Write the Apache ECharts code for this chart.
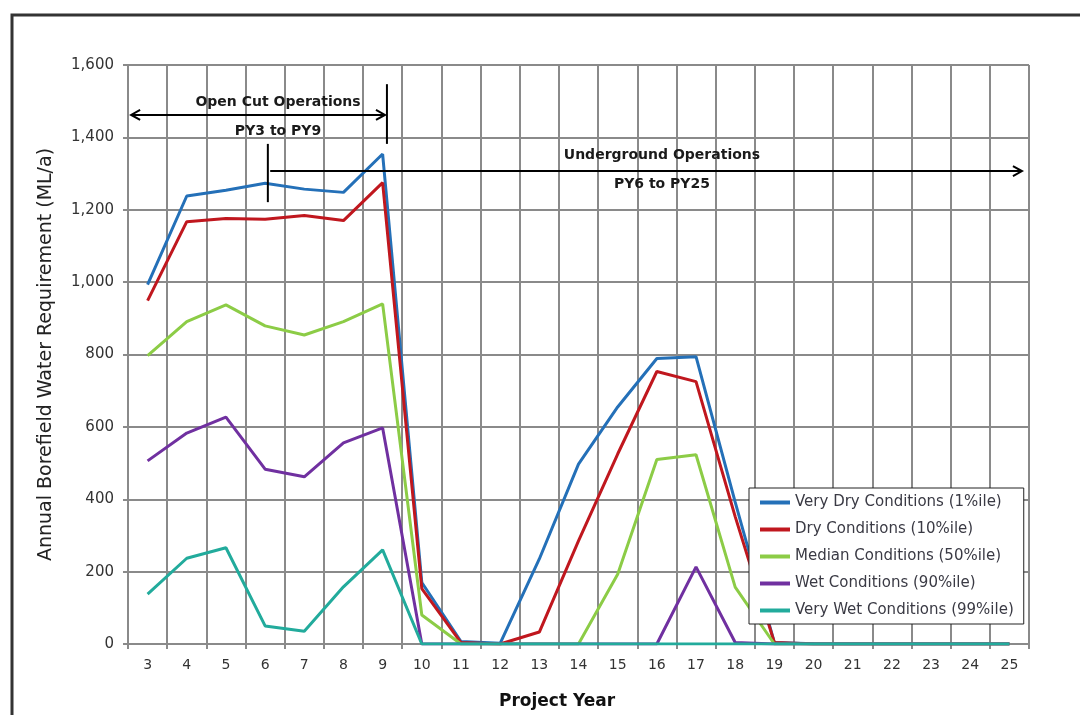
<!DOCTYPE html>
<html>
<head>
<meta charset="utf-8">
<script src="https://cdn.jsdelivr.net/npm/echarts@6/dist/echarts.min.js"></script>
<style>
html, body { margin: 0; padding: 0; background: #fff; }
#chart { width: 1080px; height: 715px; }
</style>
</head>
<body>
<div id="chart"></div>
<script>
// project years on the x axis
var years = ['3', '4', '5', '6', '7', '8', '9', '10', '11', '12', '13', '14', '15', '16', '17', '18', '19', '20', '21', '22', '23', '24', '25']
var yTicks = [0, 1600, 200] // min, max, step

// annual borefield water requirement (ML/a)
var veryDry = [993, 1238, 1254, 1273, 1257, 1248, 1354, 170, 7, 2, 235, 497, 655, 789, 794, 392, 4, 1, 0, 0, 0, 0, 0]
var dry = [949, 1167, 1176, 1174, 1184, 1170, 1275, 153, 4, 0, 33, 285, 525, 753, 725, 352, 4, 0, 0, 0, 0, 0, 0]
var median = [797, 891, 937, 879, 854, 891, 940, 80, 0, 0, 0, 0, 193, 510, 523, 157, 0, 0, 0, 0, 0, 0, 0]
var wet = [506, 583, 627, 483, 462, 556, 597, 0, 0, 0, 0, 0, 0, 0, 213, 4, 0, 0, 0, 0, 0, 0, 0]
var veryWet = [138, 237, 266, 50, 35, 158, 260, 0, 0, 0, 0, 0, 0, 0, 0, 0, 0, 0, 0, 0, 0, 0, 0]

var seriesNames = ['Very Dry Conditions (1%ile)', 'Dry Conditions (10%ile)', 'Median Conditions (50%ile)', 'Wet Conditions (90%ile)', 'Very Wet Conditions (99%ile)']
var seriesColors = ['#2470b8', '#c0171e', '#8ccc46', '#7030a0', '#22ab9c']

// operation periods: labels, arrow from/to (category index), arrow value,
// marker index + value range, label index + values, arrow heads
var periods = [
    ['Open Cut Operations', 'PY3 to PY9', -0.42, 6.06, 1462, 6.11, 1547, 1382, 3.33, 1498, 1417, 'both'],
    ['Underground Operations', 'PY6 to PY25', 3.13, 22.32, 1307, 3.07, 1382, 1221, 13.13, 1351, 1271, 'right']
]

var FONT = 'DejaVu Sans'
var GRID_COLOR = '#8a8a8a'

var chart = echarts.init(document.getElementById('chart'))

var option = {
    animation: false,
    backgroundColor: '#fff',
    textStyle: { fontFamily: FONT },
    grid: { left: 128, right: 51, top: 65, bottom: 71 },
    legend: {
        data: seriesNames,
        orient: 'vertical',
        left: 749,
        top: 488,
        icon: 'rect',
        itemWidth: 30,
        itemHeight: 4,
        itemGap: 12,
        padding: [7, 10, 6, 11],
        borderColor: '#222',
        borderWidth: 1,
        backgroundColor: '#fff',
        textStyle: { fontFamily: FONT, fontSize: 15, color: '#3a3a44' }
    },
    xAxis: {
        type: 'category',
        data: years,
        boundaryGap: true,
        axisLine: { lineStyle: { color: GRID_COLOR, width: 2 } },
        axisTick: { show: true, interval: 0, length: 5, lineStyle: { color: GRID_COLOR, width: 2 } },
        splitLine: { show: true, interval: 0, lineStyle: { color: GRID_COLOR, width: 2 } },
        axisLabel: { interval: 0, margin: 14, fontSize: 14, color: '#333', fontFamily: FONT }
    },
    yAxis: {
        type: 'value',
        min: yTicks[0],
        max: yTicks[1],
        interval: yTicks[2],
        name: 'Annual Borefield Water Requirement (ML/a)',
        nameLocation: 'middle',
        nameGap: 72,
        nameTextStyle: { fontSize: 19, color: '#222', fontFamily: FONT },
        axisLine: { show: true, lineStyle: { color: GRID_COLOR, width: 2 } },
        axisTick: { show: true, length: 5, lineStyle: { color: GRID_COLOR, width: 2 } },
        splitLine: { lineStyle: { color: GRID_COLOR, width: 2 } },
        axisLabel: {
            margin: 14,
            fontSize: 15,
            color: '#333',
            fontFamily: FONT,
            formatter: function (v) { return v.toLocaleString('en-US') }
        }
    },
    series: [veryDry, dry, median, wet, veryWet].map(function (d, i) {
        return {
            name: seriesNames[i],
            type: 'line',
            data: d,
            symbol: 'none',
            color: seriesColors[i],
            lineStyle: { width: 3, color: seriesColors[i] }
        }
    })
}

chart.setOption(option)

// annotations placed through the chart's own scales
function px (idx, val) {
    var a = chart.convertToPixel({ xAxisIndex: 0, yAxisIndex: 0 }, [0, val])
    var b = chart.convertToPixel({ xAxisIndex: 0, yAxisIndex: 0 }, [1, val])
    return [a[0] + (b[0] - a[0]) * idx, a[1]]
}

function head (p, dir) {
    return {
        type: 'polyline',
        shape: { points: [[p[0] - dir * 9, p[1] - 5], p, [p[0] - dir * 9, p[1] + 5]] },
        style: { stroke: '#000', lineWidth: 2, fill: null },
        z: 10
    }
}

var graphics = [{
    type: 'rect',
    shape: { x: 12, y: 15, width: 1100, height: 740 },
    style: { stroke: '#333', lineWidth: 3, fill: null },
    z: 0,
    silent: true
}, {
    type: 'text',
    x: 557,
    y: 702,
    style: { text: 'Project Year', fontFamily: FONT, fontSize: 17, fontWeight: 'bold', fill: '#111', align: 'center', verticalAlign: 'middle' },
    z: 10
}]

periods.forEach(function (p) {
    var s = px(p[2], p[4])
    var e = px(p[3], p[4])
    var m1 = px(p[5], p[6])
    var m2 = px(p[5], p[7])
    var t1 = px(p[8], p[9])
    var t2 = px(p[8], p[10])
    graphics.push({
        type: 'line',
        shape: { x1: s[0], y1: s[1], x2: e[0], y2: e[1] },
        style: { stroke: '#000', lineWidth: 2 },
        z: 10
    })
    graphics.push(head(e, 1))
    if (p[11] === 'both') graphics.push(head(s, -1))
    graphics.push({
        type: 'line',
        shape: { x1: m1[0], y1: m1[1], x2: m2[0], y2: m2[1] },
        style: { stroke: '#000', lineWidth: 2 },
        z: 10
    })
    graphics.push({
        type: 'text', x: t1[0], y: t1[1],
        style: { text: p[0], fontFamily: FONT, fontSize: 14, fontWeight: 'bold', fill: '#1a1a1a', align: 'center', verticalAlign: 'middle' },
        z: 10
    })
    graphics.push({
        type: 'text', x: t2[0], y: t2[1],
        style: { text: p[1], fontFamily: FONT, fontSize: 14, fontWeight: 'bold', fill: '#1a1a1a', align: 'center', verticalAlign: 'middle' },
        z: 10
    })
})

chart.setOption({ graphic: graphics })
</script>
</body>
</html>
